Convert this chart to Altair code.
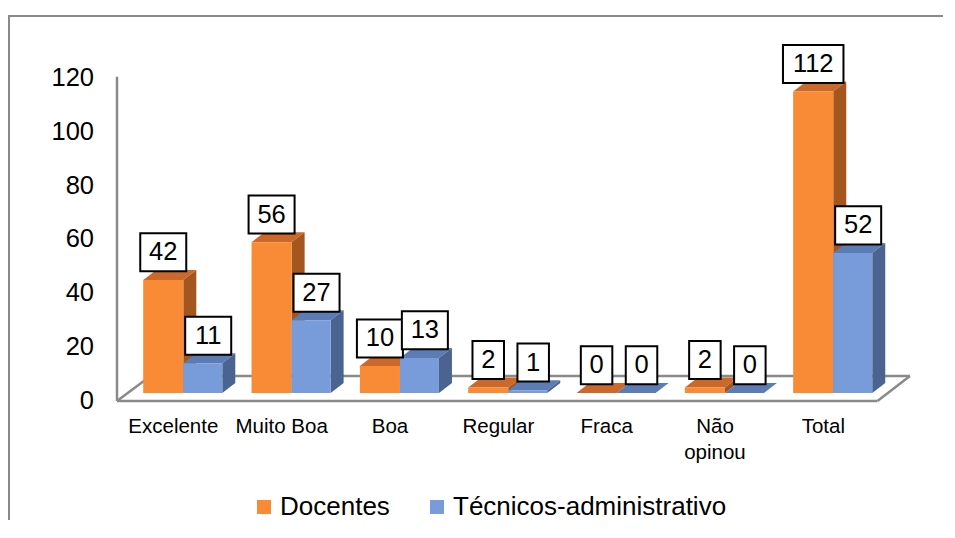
import altair as alt
import pandas as pd

# ---- data ----
categories = ["Excelente", "Muito Boa", "Boa", "Regular", "Fraca", "Não opinou", "Total"]
tick_labels = ["Excelente", "Muito Boa", "Boa", "Regular", "Fraca", "Não\nopinou", "Total"]
docentes = [42, 56, 10, 2, 0, 2, 112]
tecnicos = [11, 27, 13, 1, 0, 0, 52]
series_names = ["Docentes", "Técnicos-administrativo"]
y_ticks = [0, 20, 40, 60, 80, 100, 120]

# ---- style / geometry constants ----
PX_X = 108.33      # px per category slot
PX_Y = 2.69        # px per value unit
DX = 13 / PX_X     # 3-D depth, horizontal (in x units)
DY = 10 / PX_Y     # 3-D depth, vertical (in value units)
SLOTS = {"Docentes": (0.212, 0.582), "Técnicos-administrativo": (0.582, 0.942)}
COL_FRONT = {"Docentes": "#F98A36", "Técnicos-administrativo": "#789BDA"}
COL_TOP = {"Docentes": "#CC682A", "Técnicos-administrativo": "#5C7CB6"}
COL_SIDE = {"Docentes": "#A4561F", "Técnicos-administrativo": "#4B6391"}
FONT = "Liberation Sans"

front_rows, top_rows, side_rows, lab_rows = [], [], [], []
for s, vals in zip(series_names, [docentes, tecnicos]):
    a, b = SLOTS[s]
    for i, (c, v) in enumerate(zip(categories, vals)):
        bid = f"{s}-{i}"
        front_rows.append(dict(series=s, cat=c, x=i + a, x2=i + b, y=0, y2=v))
        top_rows += [dict(series=s, bid=bid, y=v, x=i + a, x2=i + b),
                     dict(series=s, bid=bid, y=v + DY, x=i + a + DX, x2=i + b + DX)]
        side_rows += [dict(series=s, bid=bid, x=i + b, y=0, y2=v),
                      dict(series=s, bid=bid, x=i + b + DX, y=DY, y2=v + DY)]
        n = len(str(v))
        w = (17 + 14.5 * n) / PX_X
        cx = i + (a + b) / 2 + (0.05 if s != "Docentes" else 0)
        yb = v + 3.2
        lab_rows.append(dict(series=s, text=str(v), cx=cx, x=cx - w / 2, x2=cx + w / 2,
                             y=yb, y2=yb + 38 / PX_Y, cy=yb + 19 / PX_Y))

front = pd.DataFrame(front_rows)
top = pd.DataFrame(top_rows)
side = pd.DataFrame(side_rows)
labs = pd.DataFrame(lab_rows)
xlab = pd.DataFrame(dict(x=[i + 0.49 for i in range(len(categories))], label=tick_labels))
ylab = pd.DataFrame(dict(v=y_ticks, label=[str(t) for t in y_ticks]))

floor = pd.DataFrame(dict(
    x=[-0.03, 6.99, 0.28, -0.03, -0.03],
    x2=[6.99, 7.29, 7.29, 0.28, -0.03],
    y=[-3, -3, 6.3, -3, -3],
    y2=[-3, 6.3, 6.3, 6.3, 117.5],
))

xs = alt.Scale(domain=[-0.03, 7.355], nice=False, zero=False)
ys = alt.Scale(domain=[-3, 120], nice=False, zero=False)
cs = alt.Scale(domain=series_names, range=[COL_FRONT[s] for s in series_names])

floor_layer = alt.Chart(floor).mark_rule(color="#8A8A8A", strokeWidth=2.5).encode(
    x=alt.X("x:Q", scale=xs, axis=None), x2="x2:Q",
    y=alt.Y("y:Q", scale=ys, axis=None), y2="y2:Q",
)

ylabels = alt.Chart(ylab).mark_text(fontSize=25.5, font=FONT, color="black", align="right",
                                    baseline="middle", dy=8).encode(
    x=alt.value(-23), y=alt.Y("v:Q", scale=ys, axis=None), text="label:N")

layers = [floor_layer, ylabels]
for s in series_names:
    t = alt.Chart(top[top.series == s]).mark_area(orient="horizontal", color=COL_TOP[s]).encode(
        y=alt.Y("y:Q", scale=ys, axis=None), x=alt.X("x:Q", scale=xs, axis=None), x2="x2:Q",
        detail="bid:N")
    sd = alt.Chart(side[side.series == s]).mark_area(orient="vertical", color=COL_SIDE[s]).encode(
        x=alt.X("x:Q", scale=xs, axis=None), y=alt.Y("y:Q", scale=ys, axis=None), y2="y2:Q",
        detail="bid:N")
    f = alt.Chart(front[front.series == s]).mark_rect().encode(
        x=alt.X("x:Q", scale=xs, axis=None), x2="x2:Q",
        y=alt.Y("y:Q", scale=ys, axis=None), y2="y2:Q",
        color=alt.Color("series:N", scale=cs, title=None, legend=alt.Legend(
            orient="none", legendX=134, legendY=424, direction="horizontal",
            symbolType="square", symbolSize=196, symbolStrokeWidth=0,
            labelFontSize=26, labelFont=FONT, labelColor="#000000", labelOffset=3,
            labelLimit=0, columnPadding=34, padding=0)),
    )
    layers += [t, sd, f]

boxes = alt.Chart(labs).mark_rect(fill="white", stroke="black", strokeWidth=2).encode(
    x=alt.X("x:Q", scale=xs, axis=None), x2="x2:Q",
    y=alt.Y("y:Q", scale=ys, axis=None), y2="y2:Q")
texts = alt.Chart(labs).mark_text(fontSize=25.5, font=FONT, color="black", baseline="middle").encode(
    x=alt.X("cx:Q", scale=xs, axis=None), y=alt.Y("cy:Q", scale=ys, axis=None), text="text:N")
xlabels = alt.Chart(xlab).mark_text(fontSize=20.5, font=FONT, color="black", baseline="alphabetic",
                                    lineBreak="\n", lineHeight=26).encode(
    x=alt.X("x:Q", scale=xs, axis=None), y=alt.value(363), text="label:N")

frame_top = alt.Chart(xlab).mark_rule(color="#8A8A8A", strokeWidth=2).encode(
    x=alt.value(-109), x2=alt.value(840), y=alt.value(-54))
frame_left = alt.Chart(xlab).mark_rule(color="#8A8A8A", strokeWidth=2).encode(
    x=alt.value(-108), y=alt.value(-54), y2=alt.value(460))

layers += [boxes, texts, xlabels, frame_top, frame_left]

chart = alt.layer(*layers).properties(
    width=800, height=331,
    autosize=alt.AutoSizeParams(type="none"),
    padding={"left": 109, "top": 62, "right": 26, "bottom": 119},
    background="white",
).configure_view(stroke=None)

chart.save("out.html", embed_options={"renderer": "svg", "actions": False})
